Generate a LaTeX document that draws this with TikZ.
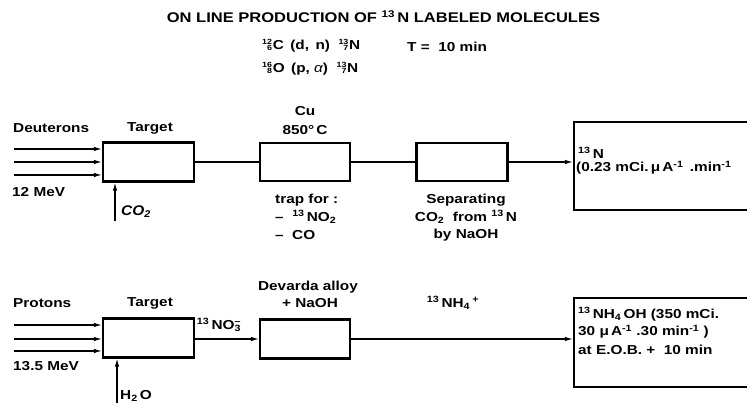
\documentclass[tikz,border=0pt]{standalone}
\usepackage{fontspec}
\setmainfont{Liberation Sans}[FakeStretch=1.18]
\newfontfamily\handfont{Liberation Sans}[FakeStretch=1.1]
\usetikzlibrary{arrows.meta}
\newcommand\nucl[2]{\setbox0\hbox{\fontsize{7.5}{7.5}\selectfont #1}%
  \rlap{\hbox to\wd0{\hfill\raisebox{4.6pt}{\fontsize{7.5}{7.5}\selectfont #1}}}%
  \hbox to\wd0{\hfill\raisebox{-1.2pt}{\fontsize{7.5}{7.5}\selectfont #2}}\kern0.8pt}
\newcommand\sups[1]{\textsuperscript{#1}}
\newcommand\subs[1]{\textsubscript{#1}}
\begin{document}
\begin{tikzpicture}[x=1pt,y=-1pt,
  box/.style={draw, line width=2.2pt, minimum width=91pt, minimum height=39pt, inner sep=0pt},
  wire/.style={line width=1.2pt},
  arr/.style={wire, -{Latex[length=8pt,width=4.5pt]}},
  txt/.style={inner sep=0pt, font=\bfseries\fontsize{13}{15}\selectfont},
  ttl/.style={inner sep=0pt, font=\bfseries\fontsize{14}{16}\selectfont},
  lft/.style={txt, anchor=west}]
\useasboundingbox (0,0) rectangle (747,403);
\clip (0,0) rectangle (747,403);
% title and reactions
\node[ttl] (title) at (383.5,17) {ON LINE PRODUCTION OF \sups{13}\,N LABELED MOLECULES};
\node[txt, anchor=west] (re1) at (262,46) {\nucl{12}{6}C \,(d, \,n) \ \nucl{13}{7}N};
\node[txt, anchor=west] (tt) at (407,47) {T = \ 10 min};
\node[txt, anchor=west] (re2) at (262,69) {\nucl{16}{8}O \,(p, {\mdseries\itshape α}) \ \nucl{13}{7}N};
% top row
\node[box] (t1) at (148.5,162) {};
\node[box, minimum width=90pt, minimum height=38pt] (b2) at (305,162) {};
\node[box, minimum width=91pt, minimum height=38pt] (b3) at (462,162) {};
\node[box, minimum width=190pt, minimum height=88pt] (r1) at (669,166) {};
\node[lft] (deut) at (13,128) {Deuterons};
\node[txt] (tg1) at (150,128) {Target};
\node[lft] (mev1) at (12,192) {12 MeV};
\node[txt] (cu) at (305,111) {Cu};
\node[txt] (temp) at (305,130) {850°\,C};
\node[lft] (trap1) at (275,200) {trap for :};
\node[lft] (trap2) at (275,217) {-- \ \sups{13}\,NO\subs{2}};
\node[lft] (trap3) at (275,235) {-- \ CO};
\node[txt] (sep1) at (466,200) {Separating};
\node[txt] (sep2) at (466,217) {CO\subs{2} \ from \sups{13}\,N};
\node[txt] (sep3) at (466,235) {by NaOH};
\node[lft] (r1a) at (578,153) {\sups{13}\,N};
\node[lft] (r1b) at (576,168) {(0.23 mCi.\,μ\,A\sups{-1} \,.min\sups{-1}};
\node[inner sep=0pt, anchor=west, font=\handfont\bfseries\itshape\fontsize{14}{16}\selectfont] (co2) at (121,212) {CO\subs{2}};
\coordinate (d1) at (14,149);
\coordinate (d2) at (14,162);
\coordinate (d3) at (14,175);
\coordinate (cin) at (115,221);
\draw[arr] (d1) -- (d1 -| t1.west);
\draw[arr] (d2) -- (d2 -| t1.west);
\draw[arr] (d3) -- (d3 -| t1.west);
\draw[arr] (cin) -- (cin |- t1.south);
\draw[wire] (t1.east) -- (b2.west);
\draw[wire] (b2.east) -- (b3.west);
\draw[arr] (b3.east) -- (b3.east -| r1.west);
% bottom row
\node[box] (t2) at (148.5,338) {};
\node[box, minimum width=90pt, minimum height=39pt] (b6) at (305,339) {};
\node[box, minimum width=190pt, minimum height=89pt] (r2) at (669,342.5) {};
\node[lft] (prot) at (13,303) {Protons};
\node[txt] (tg2) at (150,303) {Target};
\node[lft] (mev2) at (13,366) {13.5 MeV};
\node[txt] (dev1) at (308,287) {Devarda alloy};
\node[txt] (dev2) at (310,303) {+ NaOH};
\node[txt] (no3) at (219,325) {\sups{13}\,NO\rlap{\subs{3}}\sups{--}};
\node[txt] (nh4) at (453,303) {\sups{13}\,NH\subs{4}\,\sups{+}};
\node[lft] (r2a) at (578,314) {\sups{13}\,NH\subs{4}\,OH (350 mCi.};
\node[lft] (r2b) at (578,332) {30 μ\,A\sups{-1} .30 min\sups{-1} )};
\node[lft] (r2c) at (578,350) {at E.O.B. + \ 10 min};
\node[lft] (h2o) at (120,396) {H\subs{2}\,O};
\coordinate (p1) at (14,325);
\coordinate (p2) at (14,339);
\coordinate (p3) at (14,351);
\coordinate (hin) at (117,405);
\draw[arr] (p1) -- (p1 -| t2.west);
\draw[arr] (p2) -- (p2 -| t2.west);
\draw[arr] (p3) -- (p3 -| t2.west);
\draw[arr] (hin) -- (hin |- t2.south);
\draw[arr] (t2.east |- b6.west) -- (b6.west);
\draw[arr] (b6.east) -- (b6.east -| r2.west);
\end{tikzpicture}
\end{document}
